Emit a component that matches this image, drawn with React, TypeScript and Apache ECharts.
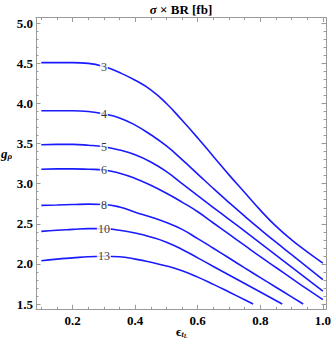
import React, { useEffect, useRef } from 'react';
import * as echarts from 'echarts';

// Contour levels of sigma x BR [fb]
const contourLevels = ['3', '4', '5', '6', '8', '10', '13'];
const labelX = [0.3, 0.3, 0.3, 0.3, 0.3, 0.3, 0.3];
const labelY = [4.46, 3.87, 3.46, 3.17, 2.74, 2.44, 2.095];

// Each contour: [epsilon_tL, g_rho]
const curve3 = [[0.1, 4.51], [0.15, 4.51], [0.2, 4.51], [0.25, 4.5], [0.3, 4.46], [0.35, 4.385], [0.4, 4.29], [0.45, 4.17], [0.5, 4.0], [0.55, 3.79], [0.6, 3.57], [0.65, 3.34], [0.7, 3.11], [0.75, 2.89], [0.8, 2.67], [0.85, 2.47], [0.9, 2.3], [0.95, 2.15], [1.0, 2.01]];
const curve4 = [[0.1, 3.91], [0.15, 3.91], [0.2, 3.91], [0.25, 3.9], [0.3, 3.87], [0.35, 3.82], [0.4, 3.73], [0.45, 3.61], [0.5, 3.47], [0.55, 3.3], [0.6, 3.12], [0.65, 2.94], [0.7, 2.765], [0.75, 2.595], [0.8, 2.43], [0.85, 2.27], [0.9, 2.115], [0.95, 1.96], [1.0, 1.805]];
const curve5 = [[0.1, 3.485], [0.15, 3.49], [0.2, 3.49], [0.25, 3.48], [0.3, 3.46], [0.35, 3.42], [0.4, 3.36], [0.45, 3.27], [0.5, 3.15], [0.55, 3.0], [0.6, 2.85], [0.65, 2.703], [0.7, 2.556], [0.75, 2.408], [0.8, 2.259], [0.85, 2.109], [0.9, 1.959], [0.95, 1.809], [1.0, 1.66]];
const curve6 = [[0.1, 3.18], [0.15, 3.185], [0.2, 3.185], [0.25, 3.18], [0.3, 3.17], [0.35, 3.13], [0.4, 3.065], [0.45, 2.98], [0.5, 2.88], [0.55, 2.77], [0.6, 2.65], [0.65, 2.51], [0.7, 2.37], [0.75, 2.23], [0.8, 2.09], [0.85, 1.955], [0.9, 1.82], [0.95, 1.685], [1.0, 1.555]];
const curve8 = [[0.1, 2.73], [0.15, 2.735], [0.2, 2.74], [0.25, 2.745], [0.3, 2.74], [0.35, 2.71], [0.4, 2.645], [0.45, 2.585], [0.5, 2.515], [0.55, 2.43], [0.6, 2.315], [0.65, 2.195], [0.7, 2.073], [0.75, 1.95], [0.8, 1.829], [0.85, 1.709], [0.9, 1.589], [0.937, 1.5]];
const curve10 = [[0.1, 2.405], [0.15, 2.42], [0.2, 2.43], [0.25, 2.44], [0.3, 2.44], [0.35, 2.42], [0.4, 2.385], [0.45, 2.335], [0.5, 2.27], [0.55, 2.18], [0.6, 2.075], [0.65, 1.968], [0.7, 1.862], [0.75, 1.756], [0.8, 1.65], [0.87, 1.5]];
const curve13 = [[0.1, 2.04], [0.15, 2.06], [0.2, 2.075], [0.25, 2.09], [0.3, 2.095], [0.35, 2.09], [0.4, 2.06], [0.45, 2.02], [0.5, 1.975], [0.55, 1.915], [0.6, 1.835], [0.65, 1.745], [0.7, 1.65], [0.75, 1.553], [0.777, 1.5]];
const curves = [curve3, curve4, curve5, curve6, curve8, curve10, curve13];

const xMin = 0.083;
const xMax = 1.01;
const yMin = 1.434;
const yMax = 5.072;

const frameColor = '#9a9a9a';
const serif = 'Times New Roman, Liberation Serif, serif';

function isMultiple(v: number, step: number) {
  const r = v / step;
  return Math.abs(r - Math.round(r)) < 1e-6;
}

function axisBase(step: number, minorSplit: number, showLabel: boolean, min: number, max: number, margin: number) {
  return {
    type: 'value',
    min,
    max,
    minInterval: step,
    maxInterval: step,
    axisLine: { show: true, onZero: false, lineStyle: { color: frameColor, width: 1 } },
    axisTick: { show: true, inside: true, length: 4.5, lineStyle: { color: frameColor, width: 1 } },
    minorTick: { show: true, splitNumber: minorSplit, length: 2.5, lineStyle: { color: frameColor, width: 1 } },
    splitLine: { show: false },
    minorSplitLine: { show: false },
    axisLabel: {
      show: showLabel,
      margin,
      fontFamily: serif,
      fontWeight: 'bold',
      fontSize: 13,
      color: '#000',
      formatter: (v: number) => (isMultiple(v, step) ? v.toFixed(1) : ''),
    },
  };
}

export default function App() {
  const ref = useRef<HTMLDivElement>(null);
  useEffect(() => {
    const chart = echarts.init(ref.current!, null, { renderer: 'svg' });
    const lineSeries = curves.map((c, i) => ({
      type: 'line',
      name: contourLevels[i],
      data: c,
      xAxisIndex: 0,
      yAxisIndex: 0,
      showSymbol: false,
      symbol: 'none',
      smooth: 0.5,
      clip: true,
      z: 2,
      lineStyle: { color: '#1a1aff', width: 1.6 },
    }));
    const labelData = contourLevels.map((lv, i) => [labelX[i], labelY[i], lv]);
    const option: any = {
      animation: false,
      backgroundColor: '#fff',
      textStyle: { fontFamily: serif },
      grid: { left: 36, right: 6, top: 17.5, bottom: 34.7, containLabel: false, outerBoundsMode: 'none' },
      xAxis: [
        { ...axisBase(0.2, 4, true, xMin, xMax, 5), position: 'bottom' },
        { ...axisBase(0.2, 4, false, xMin, xMax, 5), position: 'top' },
      ],
      yAxis: [
        { ...axisBase(0.5, 5, true, yMin, yMax, 3), position: 'left' },
        { ...axisBase(0.5, 5, false, yMin, yMax, 3), position: 'right' },
      ],
      series: [
        ...lineSeries,
        {
          type: 'scatter',
          data: labelData,
          xAxisIndex: 0,
          yAxisIndex: 0,
          symbolSize: 1,
          z: 5,
          itemStyle: { color: 'rgba(0,0,0,0)' },
          label: {
            show: true,
            position: 'inside',
            formatter: (p: any) => p.value[2],
            fontFamily: serif,
            fontSize: 12,
            color: '#000',
            backgroundColor: '#fff',
            padding: [0, 1, 0, 1],
          },
        },
      ],
      graphic: [
        {
          type: 'text',
          x: 181,
          y: 9,
          style: {
            text: '{i|σ} × BR [fb]',
            align: 'center',
            verticalAlign: 'middle',
            fontFamily: serif,
            fontWeight: 'bold',
            fontSize: 13,
            fill: '#000',
            rich: { i: { fontStyle: 'italic', fontWeight: 'bold', fontSize: 13, fontFamily: serif } },
          },
        },
        {
          type: 'text',
          x: 1,
          y: 153,
          style: {
            text: '{g|g}{s|ρ}',
            align: 'left',
            verticalAlign: 'middle',
            fontFamily: serif,
            fill: '#000',
            rich: {
              g: { fontStyle: 'italic', fontWeight: 'bold', fontSize: 13, fontFamily: serif },
              s: { fontStyle: 'italic', fontWeight: 'bold', fontSize: 9, fontFamily: serif, padding: [6, 0, 0, 0] },
            },
          },
        },
        {
          type: 'text',
          x: 176,
          y: 331,
          style: {
            text: '{e|ϵ}{t|t}{l|L}',
            align: 'left',
            verticalAlign: 'middle',
            fontFamily: serif,
            fill: '#000',
            rich: {
              e: { fontWeight: 'bold', fontSize: 13, fontFamily: serif },
              t: { fontStyle: 'italic', fontWeight: 'bold', fontSize: 8, fontFamily: serif, padding: [6, 0, 0, 0] },
              l: { fontStyle: 'italic', fontWeight: 'bold', fontSize: 6, fontFamily: serif, padding: [10, 0, 0, 0] },
            },
          },
        },
      ],
    };
    chart.setOption(option);
    return () => chart.dispose();
  }, []);
  return <div ref={ref} style={{ position: 'absolute', left: 0, top: 0, width: 332, height: 344 }} />;
}
